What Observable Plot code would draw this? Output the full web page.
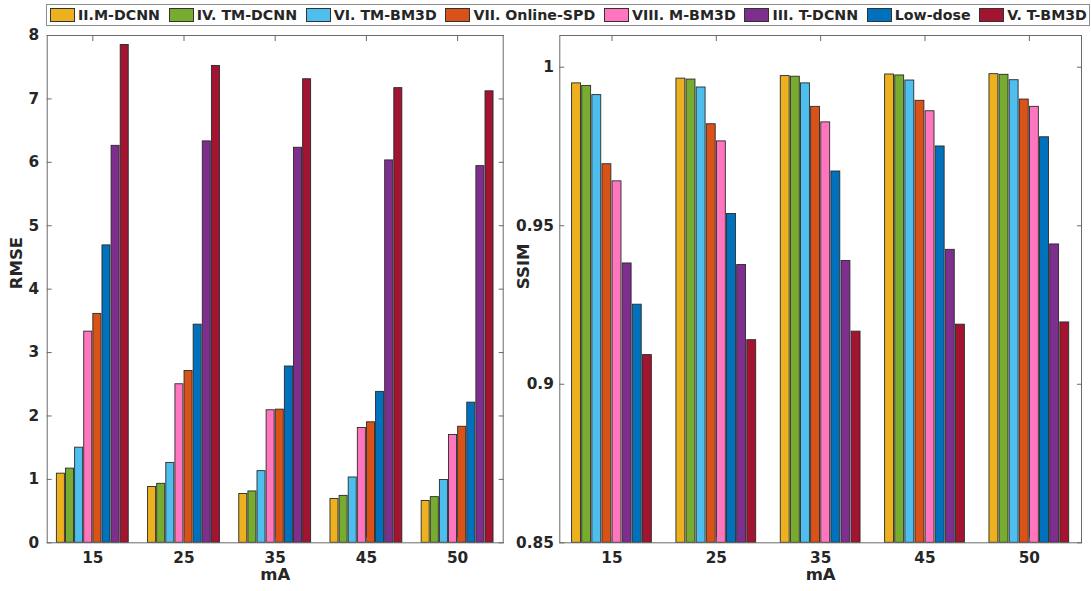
<!DOCTYPE html>
<html><head><meta charset="utf-8">
<script src="https://cdn.jsdelivr.net/npm/d3@7"></script>
<script src="https://cdn.jsdelivr.net/npm/@observablehq/plot@0.6"></script>
<style>
html,body{margin:0;padding:0;background:#fff;overflow:hidden;}
#root{position:relative;width:1091px;height:591px;font-family:"DejaVu Sans",sans-serif;}
#legend{position:absolute;left:46px;top:4px;width:1044px;height:22px;box-sizing:border-box;border:1px solid #8c8c8c;display:flex;align-items:center;justify-content:space-between;padding:0 2px 0 3px;background:#fff;}
.item{display:flex;align-items:center;font-weight:bold;font-size:14.2px;color:#262626;white-space:nowrap;}
.sw{width:25px;height:14px;box-sizing:border-box;border:1px solid #333;margin-right:3px;}
#left{position:absolute;left:0;top:0;}
#right{position:absolute;left:510px;top:0;}
</style></head>
<body><div id="root"><div id="left"></div><div id="right"></div><div id="legend"></div></div>
<script>
// Categories
const groups = ["15", "25", "35", "45", "50"];
const methods = ["II.M-DCNN", "IV. TM-DCNN", "VI. TM-BM3D", "VII. Online-SPD", "VIII. M-BM3D", "III. T-DCNN", "Low-dose", "V. T-BM3D"];
const colors = ["#EDB120", "#77AC30", "#4DBEEE", "#D95319", "#FF76BE", "#7E2F8E", "#0072BD", "#A2142F"];

// RMSE values per method (mA = 15, 25, 35, 45, 50)
const rmseMDCNN     = [1.09, 0.88, 0.77, 0.69, 0.66];
const rmseTMDCNN    = [1.17, 0.93, 0.81, 0.74, 0.72];
const rmseTMBM3D    = [1.50, 1.26, 1.13, 1.03, 0.99];
const rmseOnlineSPD = [3.61, 2.71, 2.10, 1.90, 1.83];
const rmseMBM3D     = [3.33, 2.50, 2.09, 1.81, 1.70];
const rmseTDCNN     = [6.26, 6.33, 6.23, 6.03, 5.94];
const rmseLowDose   = [4.69, 3.44, 2.78, 2.38, 2.21];
const rmseTBM3D     = [7.85, 7.52, 7.31, 7.17, 7.12];

// SSIM values per method
const ssimMDCNN     = [0.9949, 0.9964, 0.9972, 0.9977, 0.9978];
const ssimTMDCNN    = [0.9941, 0.9961, 0.9970, 0.9974, 0.9976];
const ssimTMBM3D    = [0.9912, 0.9936, 0.9949, 0.9958, 0.9959];
const ssimOnlineSPD = [0.9694, 0.9820, 0.9875, 0.9894, 0.9898];
const ssimMBM3D     = [0.9640, 0.9766, 0.9826, 0.9861, 0.9875];
const ssimTDCNN     = [0.9381, 0.9376, 0.9389, 0.9424, 0.9441];
const ssimLowDose   = [0.9251, 0.9537, 0.9671, 0.9750, 0.9779];
const ssimTBM3D     = [0.9092, 0.9139, 0.9166, 0.9188, 0.9195];

// Tick values
const rmseTicks = [0, 1, 2, 3, 4, 5, 6, 7, 8];
const ssimTicks = [0.85, 0.9, 0.95, 1];

const rmseSeries = [rmseMDCNN, rmseTMDCNN, rmseTMBM3D, rmseOnlineSPD, rmseMBM3D, rmseTDCNN, rmseLowDose, rmseTBM3D];
const ssimSeries = [ssimMDCNN, ssimTMDCNN, ssimTMBM3D, ssimOnlineSPD, ssimMBM3D, ssimTDCNN, ssimLowDose, ssimTBM3D];

// Bars are ordered by value inside each group
function rows(series, descending) {
  const out = [];
  groups.forEach((g, gi) => {
    const vals = series.map((s, mi) => ({group: g, gi, method: methods[mi], value: s[gi]}));
    vals.slice().sort((a, b) => descending ? b.value - a.value : a.value - b.value)
      .forEach((d, r) => { d.rank = r; out.push(d); });
  });
  return out;
}

const groupIdx = groups.map((g, i) => i + 1);

function chart({data, base, domain, yTicks, yLabel, width, marginLeft, marginRight, pitch, yPad, yLabelDx}) {
  const half = pitch * 0.44;
  const slot = d => d.gi + 1 + (d.rank - 3.5) * pitch;
  const tickColor = "#6a6a6a";
  return Plot.plot({
    width, height: 591,
    marginTop: 35, marginBottom: 48.7, marginLeft, marginRight,
    style: {fontFamily: "DejaVu Sans", fontWeight: "bold", fontSize: "15.3px", color: "#262626", background: "transparent", overflow: "visible"},
    x: {domain: [0.5, 5.5]},
    y: {domain},
    color: {domain: methods, range: colors},
    marks: [
      Plot.rectY(data, {x1: d => slot(d) - half, x2: d => slot(d) + half, y1: base, y2: "value", fill: "method", stroke: "#2a2a2a", strokeWidth: 0.9}),
      Plot.frame({stroke: tickColor}),
      // tick labels
      Plot.axisY({anchor: "left", ticks: yTicks, tickSize: 0, tickPadding: yPad, tickFormat: d => String(d), label: null}),
      Plot.axisX({anchor: "bottom", ticks: groupIdx, tickSize: 0, tickPadding: 9, tickFormat: i => groups[i - 1], label: null}),
      // inward tick marks on all four sides
      Plot.axisY({anchor: "left", ticks: yTicks, tickSize: 5, dx: 5, tickFormat: () => "", label: null, stroke: tickColor}),
      Plot.axisY({anchor: "right", ticks: yTicks, tickSize: 5, dx: -5, tickFormat: () => "", label: null, stroke: tickColor}),
      Plot.axisX({anchor: "top", ticks: groupIdx, tickSize: 5, dy: 5, tickFormat: () => "", label: null, stroke: tickColor}),
      Plot.axisX({anchor: "bottom", ticks: groupIdx, tickSize: 5, dy: -5, tickFormat: () => "", label: null, stroke: tickColor}),
      // axis titles
      Plot.text(["mA"], {frameAnchor: "bottom", dy: 37.5, text: d => d, fontSize: 16.5, fill: "#262626"}),
      Plot.text([yLabel], {frameAnchor: "left", dx: yLabelDx, rotate: -90, text: d => d, fontSize: 16.5, fill: "#262626"})
    ]
  });
}

document.getElementById("left").append(chart({
  data: rows(rmseSeries, false), base: 0, domain: [0, 8], yTicks: rmseTicks, yLabel: "RMSE",
  width: 510, marginLeft: 46.7, marginRight: 7.3, pitch: 0.1, yPad: 8, yLabelDx: -30
}));
document.getElementById("right").append(chart({
  data: rows(ssimSeries, true), base: 0.85, domain: [0.85, 1.01], yTicks: ssimTicks, yLabel: "SSIM",
  width: 581, marginLeft: 49.3, marginRight: 10, pitch: 0.097, yPad: 6, yLabelDx: -36
}));

// Legend
const legend = document.getElementById("legend");
methods.forEach((m, i) => {
  const item = document.createElement("div");
  item.className = "item";
  const sw = document.createElement("span");
  sw.className = "sw";
  sw.style.background = colors[i];
  const t = document.createElement("span");
  t.textContent = m;
  item.append(sw, t);
  legend.append(item);
});
</script>
</body></html>
